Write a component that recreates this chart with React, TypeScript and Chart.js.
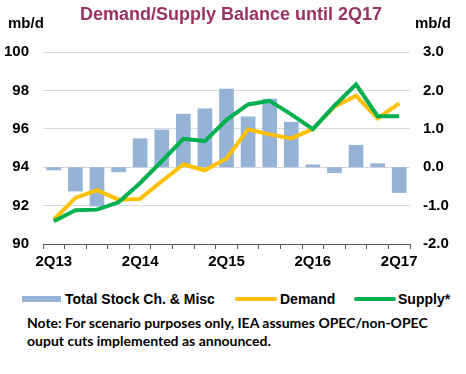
import { useEffect, useRef } from "react";
import { Chart, registerables } from "chart.js";

Chart.register(...registerables);

const quarters = [
  "2Q13", "3Q13", "4Q13", "1Q14", "2Q14", "3Q14", "4Q14", "1Q15", "2Q15",
  "3Q15", "4Q15", "1Q16", "2Q16", "3Q16", "4Q16", "1Q17", "2Q17",
];
const stockChange = [
  -0.08, -0.63, -1.02, -0.13, 0.75, 0.98, 1.39, 1.53, 2.04, 1.32, 1.78, 1.18,
  0.07, -0.15, 0.58, 0.1, -0.67,
];
const demand = [
  91.27, 92.4, 92.8, 92.31, 92.35, 93.27, 94.14, 93.84, 94.45, 95.97, 95.71,
  95.5, 95.98, 97.15, 97.72, 96.54, 97.33,
];
const supply = [
  91.18, 91.76, 91.79, 92.17, 93.18, 94.31, 95.48, 95.36, 96.47, 97.27, 97.46,
  96.75, 95.98, 97.2, 98.32, 96.66, 96.66,
];
const labelEvery = 4;

const FONT = "'Liberation Sans', Arial, sans-serif";

export default function App() {
  const ref = useRef<HTMLCanvasElement | null>(null);

  useEffect(() => {
    if (!ref.current) return;
    const chart = new Chart(ref.current, {
      type: "bar",
      data: {
        labels: quarters,
        datasets: [
          {
            type: "line",
            label: "Supply*",
            data: supply,
            yAxisID: "y",
            borderColor: "#00b050",
            backgroundColor: "#00b050",
            borderWidth: 4,
            pointRadius: 0,
            tension: 0,
            order: 1,
          },
          {
            type: "line",
            label: "Demand",
            data: demand,
            yAxisID: "y",
            borderColor: "#ffc000",
            backgroundColor: "#ffc000",
            borderWidth: 4,
            pointRadius: 0,
            tension: 0,
            order: 2,
          },
          {
            type: "bar",
            label: "Total Stock Ch. & Misc",
            data: stockChange,
            yAxisID: "y1",
            backgroundColor: "#95b3d7",
            borderWidth: 0,
            categoryPercentage: 1,
            barPercentage: 0.68,
            order: 3,
          },
        ],
      },
      options: {
        responsive: false,
        animation: false,
        devicePixelRatio: 1,
        layout: { padding: { top: 52, left: 0, right: 0, bottom: 0 } },
        plugins: {
          legend: { display: false },
          title: { display: false },
          tooltip: { enabled: false },
        },
        scales: {
          x: {
            type: "category",
            offset: true,
            afterFit: (s: any) => {
              s.height = 36;
            },
            grid: {
              offset: true,
              drawOnChartArea: false,
              drawTicks: true,
              tickLength: 5,
              color: "#595959",
            },
            border: { display: true, color: "#595959" },
            ticks: {
              autoSkip: false,
              maxRotation: 0,
              padding: 4,
              color: "#000",
              font: { family: FONT, size: 15, weight: "bold" },
              callback: (_v: any, i: number) =>
                i % labelEvery === 0 ? quarters[i] : "",
            },
          },
          y: {
            position: "left",
            min: 90,
            max: 100,
            afterFit: (s: any) => {
              s.width = 43;
            },
            grid: { color: "#d9d9d9", drawTicks: false },
            border: { display: false },
            ticks: {
              stepSize: 2,
              padding: 14,
              color: "#000",
              font: { family: FONT, size: 15, weight: "bold" },
            },
          },
          y1: {
            position: "right",
            min: -2,
            max: 3,
            afterFit: (s: any) => {
              s.width = 56;
            },
            grid: { display: false, drawTicks: false },
            border: { display: false },
            ticks: {
              stepSize: 1,
              padding: 13,
              color: "#000",
              font: { family: FONT, size: 15, weight: "bold" },
              callback: (v: any) => Number(v).toFixed(1),
            },
          },
        },
      },
    });
    return () => chart.destroy();
  }, []);

  const textBase: any = {
    position: "absolute",
    whiteSpace: "nowrap",
    fontFamily: FONT,
    fontWeight: "bold",
    color: "#000",
  };

  return (
    <div
      style={{
        position: "absolute",
        left: 0,
        top: 0,
        width: 466,
        height: 374,
        background: "#fff",
        overflow: "hidden",
      }}
    >
      <canvas
        ref={ref}
        width={466}
        height={280}
        style={{ position: "absolute", left: 0, top: 0, width: 466, height: 280 }}
      />
      <div
        style={{
          ...textBase,
          left: 80,
          top: 5,
          fontSize: 18,
          lineHeight: "18px",
          color: "#993366",
        }}
      >
        Demand/Supply Balance until 2Q17
      </div>
      <div style={{ ...textBase, left: 8, top: 15, fontSize: 15, lineHeight: "15px" }}>
        mb/d
      </div>
      <div style={{ ...textBase, left: 415, top: 15, fontSize: 15, lineHeight: "15px" }}>
        mb/d
      </div>

      <div
        style={{
          position: "absolute",
          left: 22,
          top: 296,
          width: 39,
          height: 6,
          background: "#95b3d7",
        }}
      />
      <div style={{ ...textBase, left: 65, top: 291, fontSize: 14, lineHeight: "16px" }}>
        Total Stock Ch. &amp; Misc
      </div>
      <div
        style={{
          position: "absolute",
          left: 235,
          top: 297,
          width: 42,
          height: 4,
          borderRadius: 2,
          background: "#ffc000",
        }}
      />
      <div style={{ ...textBase, left: 280, top: 291, fontSize: 14, lineHeight: "16px" }}>
        Demand
      </div>
      <div
        style={{
          position: "absolute",
          left: 354,
          top: 297,
          width: 42,
          height: 4,
          borderRadius: 2,
          background: "#00b050",
        }}
      />
      <div style={{ ...textBase, left: 398, top: 291, fontSize: 14, lineHeight: "16px" }}>
        Supply*
      </div>

      <div
        style={{
          ...textBase,
          left: 27,
          top: 314,
          fontFamily: "Lato, 'Open Sans', sans-serif",
          fontSize: 14,
          lineHeight: "18px",
        }}
      >
        Note: For scenario purposes only, IEA assumes OPEC/non-OPEC
        <br />
        ouput cuts implemented as announced.
      </div>
    </div>
  );
}
